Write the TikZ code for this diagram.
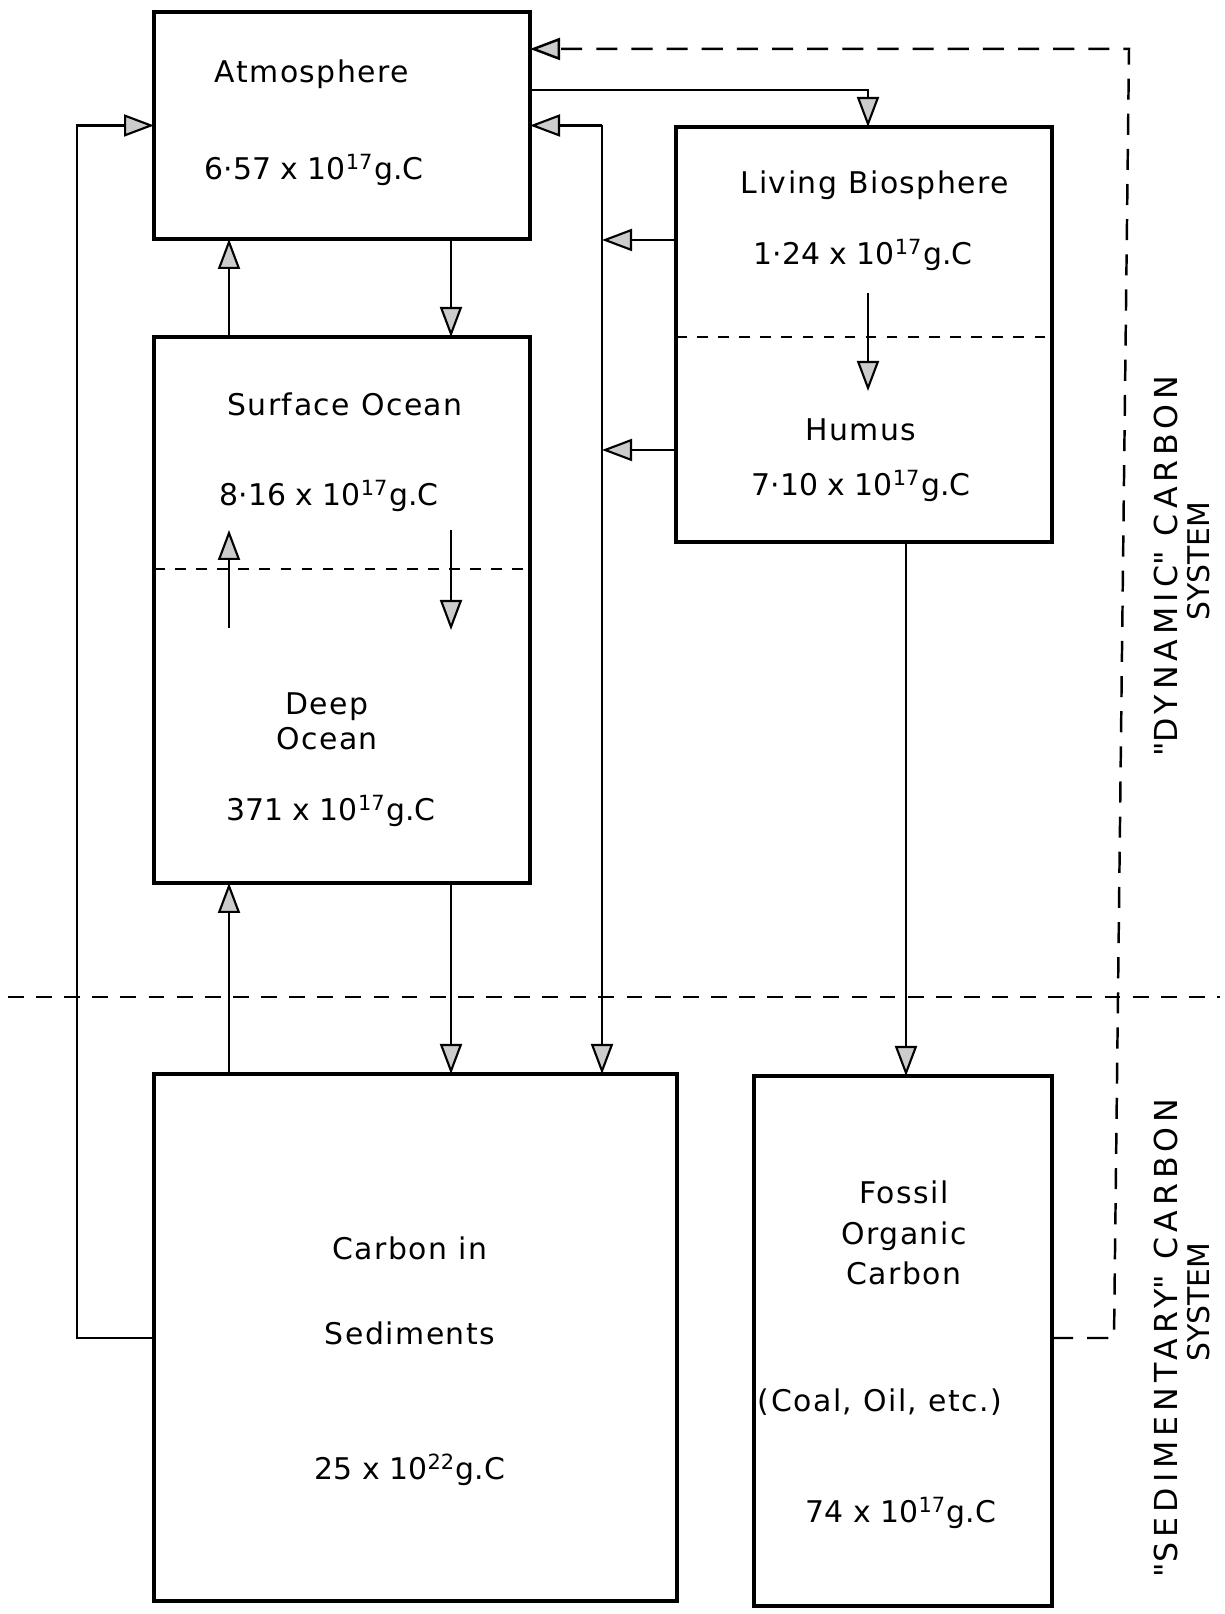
\documentclass[tikz,border=0pt]{standalone}
\usepackage{fontspec}
\setmainfont{DejaVu Sans}[LetterSpace=5]
\usetikzlibrary{arrows.meta}

\begin{document}
\begin{tikzpicture}[
    box/.style={draw, line width=0.9pt, inner sep=0pt, outer sep=0pt},
    tip/.style={-{Triangle[length=3mm, width=2.2mm, fill=gray!40]}},
    flow/.style={line width=0.6pt, tip},
    txt/.style={font=\fontsize{8.5}{10}\selectfont},
    val/.style={font=\fontsize{8.5}{10}\selectfont\addfontfeatures{LetterSpace=0}},
    side/.style={rotate=90, font=\fontsize{9}{10}\selectfont\addfontfeatures{LetterSpace=16}},
    sidesys/.style={rotate=90, font=\fontsize{8.5}{10}\selectfont\addfontfeatures{LetterSpace=0}},
    bigdash/.style={line width=0.8pt, dash pattern=on 4.5pt off 3.5pt},
    sysdash/.style={line width=0.7pt, dash pattern=on 6pt off 4pt},
    sepdash/.style={line width=0.6pt, dash pattern=on 3pt off 3pt}]
    \useasboundingbox (0,0) rectangle (12.25,16.14);
    % reservoirs
    \node[box, minimum width=3.76cm, minimum height=2.27cm] (atm) at (3.42,14.885) {};
    \node[box, minimum width=3.76cm, minimum height=5.46cm] (ocean) at (3.42,10.04) {};
    \node[box, minimum width=3.76cm, minimum height=4.15cm] (bio) at (8.64,12.795) {};
    \node[box, minimum width=5.23cm, minimum height=5.27cm] (sed) at (4.155,2.765) {};
    \node[box, minimum width=2.98cm, minimum height=5.30cm] (fossil) at (9.03,2.73) {};
    \node[txt] (atmname) at (3.12,15.40) {Atmosphere};
    \node[val] (atmval) at (3.14,14.44) {6·57 x 10\textsuperscript{17}g.C};
    \node[txt] (surfname) at (3.45,12.10) {Surface Ocean};
    \node[val] (surfval) at (3.29,11.18) {8·16 x 10\textsuperscript{17}g.C};
    \node[txt, align=center] (deepname) at (3.27,8.93) {Deep\\Ocean};
    \node[val] (deepval) at (3.31,8.03) {371 x 10\textsuperscript{17}g.C};
    \node[txt] (bioname) at (8.75,14.29) {Living Biosphere};
    \node[val] (bioval) at (8.63,13.59) {1·24 x 10\textsuperscript{17}g.C};
    \node[txt] (humname) at (8.61,11.84) {Humus};
    \node[val] (humval) at (8.61,11.28) {7·10 x 10\textsuperscript{17}g.C};
    \node[txt] (sedname) at (4.10,3.66) {Carbon in};
    \node[txt] (sedname2) at (4.10,2.81) {Sediments};
    \node[val] (sedval) at (4.10,1.44) {25 x 10\textsuperscript{22}g.C};
    \node[txt, align=center] (fosname) at (9.04,3.81) {Fossil\\[1.5pt]Organic\\[1.5pt]Carbon};
    \node[txt] (fosnote) at (8.80,2.12) {(Coal, Oil, etc.)};
    \node[val] (fosval) at (9.01,1.01) {74 x 10\textsuperscript{17}g.C};
    \node[side] (dyn) at (11.66,10.48) {\textquotedbl DYNAMIC\textquotedbl{} CARBON};
    \node[sidesys] (dynsys) at (11.99,10.53) {SYSTEM};
    \node[side] (sedi) at (11.66,2.76) {\textquotedbl SEDIMENTARY\textquotedbl{} CARBON};
    \node[sidesys] (sedisys) at (11.99,3.12) {SYSTEM};
    \coordinate (cLoop) at (0.77,0);
    \coordinate (cUp) at (2.29,0);
    \coordinate (cDown) at (4.51,0);
    \coordinate (cRet) at (6.02,0);
    \coordinate (cBio) at (8.68,0);
    \coordinate (cFos) at (9.06,0);
    \coordinate (rowOut) at (0,15.24);
    \coordinate (rowBio) at (0,13.74);
    \coordinate (rowHum) at (0,11.64);
    \coordinate (rowLow) at (0,2.76);
    \coordinate (dashTop) at (11.29,15.65);
    \coordinate (dashBot) at (11.14,2.76);
    \coordinate (bioTop) at (8.68,13.21);
    \coordinate (humTop) at (8.68,12.23);
    \coordinate (deepBot) at (2.29,9.86);
    \coordinate (surfTop) at (2.29,10.84);
    \coordinate (surfBot) at (4.51,10.84);
    \coordinate (deepTop) at (4.51,9.84);
    % fluxes
    \draw[flow] (ocean.north -| cUp) -- (atm.south -| cUp);
    \draw[flow] (atm.south -| cDown) -- (ocean.north -| cDown);
    \draw[flow] (atm.east |- rowOut) -| (bio.north -| cBio);
    \draw[flow] (bioTop) -- (humTop);
    \draw[flow] (deepBot) -- (surfTop);
    \draw[flow] (surfBot) -- (deepTop);
    \draw[flow] (bio.west |- rowBio) -- (cRet |- rowBio);
    \draw[flow] (bio.west |- rowHum) -- (cRet |- rowHum);
    \draw[flow] (cRet |- atm.east) -- (atm.east);
    \draw[flow] (cRet |- atm.east) -- (sed.north -| cRet);
    \draw[flow] (sed.west |- rowLow) -| (cLoop |- atm.west) -- (atm.west);
    \draw[flow] (sed.north -| cUp) -- (ocean.south -| cUp);
    \draw[flow] (ocean.south -| cDown) -- (sed.north -| cDown);
    \draw[flow] (bio.south -| cFos) -- (fossil.north -| cFos);
    % boundaries
    \draw[sepdash] (ocean.west |- 0,10.45) -- (ocean.east |- 0,10.45);
    \draw[sepdash] (bio.west |- 0,12.77) -- (bio.east |- 0,12.77);
    \draw[bigdash] (0.08,6.17) -- (12.20,6.17);
    \draw[sysdash, tip] (fossil.east |- rowLow) -- (dashBot) -- (dashTop) -- (atm.east |- dashTop);
\end{tikzpicture}
\end{document}
